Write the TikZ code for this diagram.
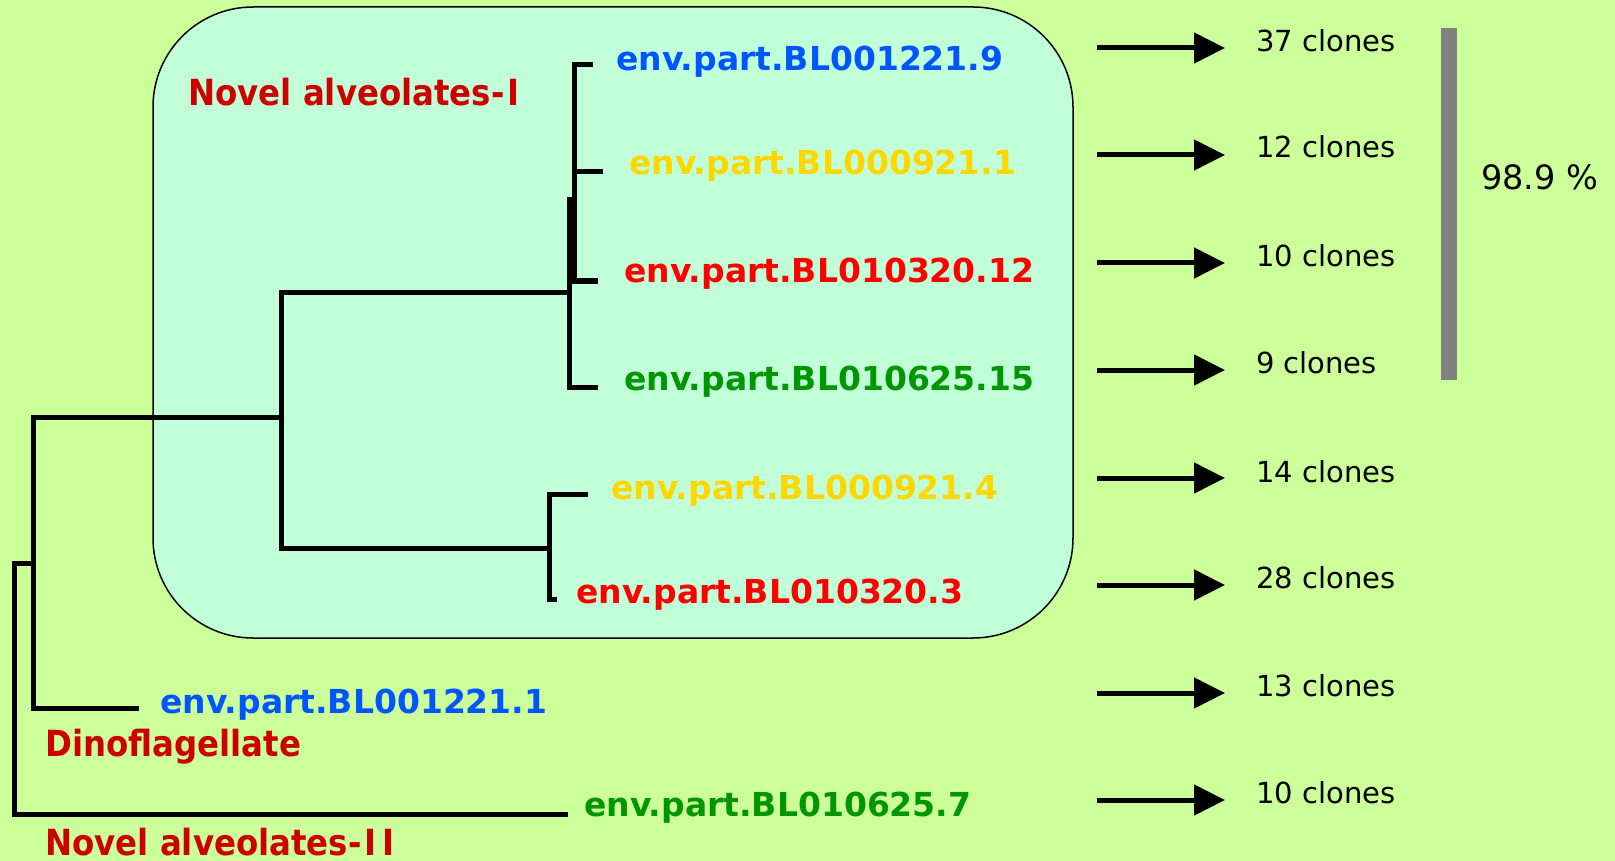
\documentclass[tikz,border=0pt]{standalone}
\usepackage{fontspec}
\setmainfont{DejaVu Sans}
\newfontfamily\grpfont[FakeStretch=0.9]{DejaVu Sans}
\usetikzlibrary{arrows.meta}

\definecolor{bgc}{RGB}{204,255,153}
\definecolor{boxc}{RGB}{192,255,216}
\definecolor{seqblue}{RGB}{0,85,255}
\definecolor{seqyellow}{RGB}{255,215,0}
\definecolor{seqred}{RGB}{255,0,0}
\definecolor{seqgreen}{RGB}{0,150,0}
\definecolor{grpred}{RGB}{204,0,0}
\definecolor{barc}{RGB}{128,128,128}

\tikzset{
  seq/.style={anchor=base west, inner sep=0pt, font=\bfseries\fontsize{33}{40}\selectfont},
  grp/.style={anchor=base west, inner sep=0pt, text=grpred, font=\grpfont\bfseries\fontsize{36}{43}\selectfont},
  cnt/.style={anchor=base west, inner sep=0pt, font=\fontsize{29}{35}\selectfont},
  branch/.style={line width=5pt},
  arr/.style={line width=5pt, -{Triangle[length=31pt,width=30pt]}},
  clade/.style={draw=black, line width=1.5pt, fill=boxc, rounded corners=100pt}
}

\begin{document}
\begin{tikzpicture}[x=1pt,y=-1pt]
\useasboundingbox (0,0) rectangle (1615,861);
\fill[bgc] (0,0) rectangle (1615,861);

% clade box around Novel alveolates-I
\draw[clade] (153,7) rectangle (1073,638);

% tree nodes
\coordinate (a1) at (574,65);
\coordinate (a2) at (574,283);
\coordinate (a3) at (574,172);
\coordinate (a4) at (571,281);
\coordinate (c1) at (569.3,197);
\coordinate (c2) at (569.3,387);
\coordinate (c3) at (569.3,292);
\coordinate (r2t) at (281,292);
\coordinate (r2b) at (281,548);
\coordinate (r2m) at (281,417);
\coordinate (r3t) at (549,494);
\coordinate (r3b) at (549,599);
\coordinate (r3m) at (549,548);
\coordinate (r1t) at (33,417);
\coordinate (r1b) at (33,708);
\coordinate (r1m) at (33,563);
\coordinate (r0t) at (14,563);
\coordinate (r0b) at (14,814);

% leaf ends
\coordinate (e1) at (593,65);
\coordinate (e2) at (603,172);
\coordinate (e3) at (598,281);
\coordinate (e4) at (598,387);
\coordinate (e5) at (588,494);
\coordinate (e6) at (557,599);
\coordinate (e7) at (139,708);
\coordinate (e8) at (568,814);

% branches
\draw[branch] (e1) -- (a1) -- (a2);
\draw[branch] (a3) -- (e2);
\draw[branch] (a4) -- (e3);
\draw[branch] (c1) -- (c2) -- (e4);
\draw[branch] (c3) -- (r2t) -- (r2b) -- (r3m);
\draw[branch] (e5) -- (r3t) -- (r3b) -- (e6);
\draw[branch] (r2m) -- (r1t) -- (r1b) -- (e7);
\draw[branch] (r1m) -- (r0t) -- (r0b) -- (e8);

% sequence labels
\node[seq, text=seqblue]   (s1) at (616,71)  {env.part.BL001221.9};
\node[seq, text=seqyellow] (s2) at (629,175) {env.part.BL000921.1};
\node[seq, text=seqred]    (s3) at (624,283) {env.part.BL010320.12};
\node[seq, text=seqgreen]  (s4) at (624,390) {env.part.BL010625.15};
\node[seq, text=seqyellow] (s5) at (611,499) {env.part.BL000921.4};
\node[seq, text=seqred]    (s6) at (576,603) {env.part.BL010320.3};
\node[seq, text=seqblue]   (s7) at (160,713) {env.part.BL001221.1};
\node[seq, text=seqgreen]  (s8) at (584,816) {env.part.BL010625.7};

% group labels
\node[grp] (g1) at (188,106) {Novel alveolates-\kern3pt I};
\node[grp] (g2) at (45,756)  {Dinoflagellate};
\node[grp] (g3) at (45,855)  {Novel alveolates-\kern3pt I\kern6pt I};

% clone counts
\foreach \yy/\bb/\nn [count=\i] in {48/52/37,155/158/12,263/267/10,370/373/9,478/482/14,585/588/28,693/696/13,800/803/10} {
  \coordinate (tail\i) at (1097,\yy);
  \coordinate (tip\i) at (1225,\yy);
  \draw[arr] (tail\i) -- (tip\i);
  \node[cnt] (cl\i) at (1256,\bb) {\nn\ clones};
}

% similarity bar
\node[fill=barc, inner sep=0pt, minimum width=16pt, minimum height=352pt, anchor=north west] (bar) at (1441,28) {};
\node[anchor=base west, inner sep=0pt, font=\fontsize{33.5}{40}\selectfont] (pct) at (1481,190) {98.9 \%};
\end{tikzpicture}
\end{document}
